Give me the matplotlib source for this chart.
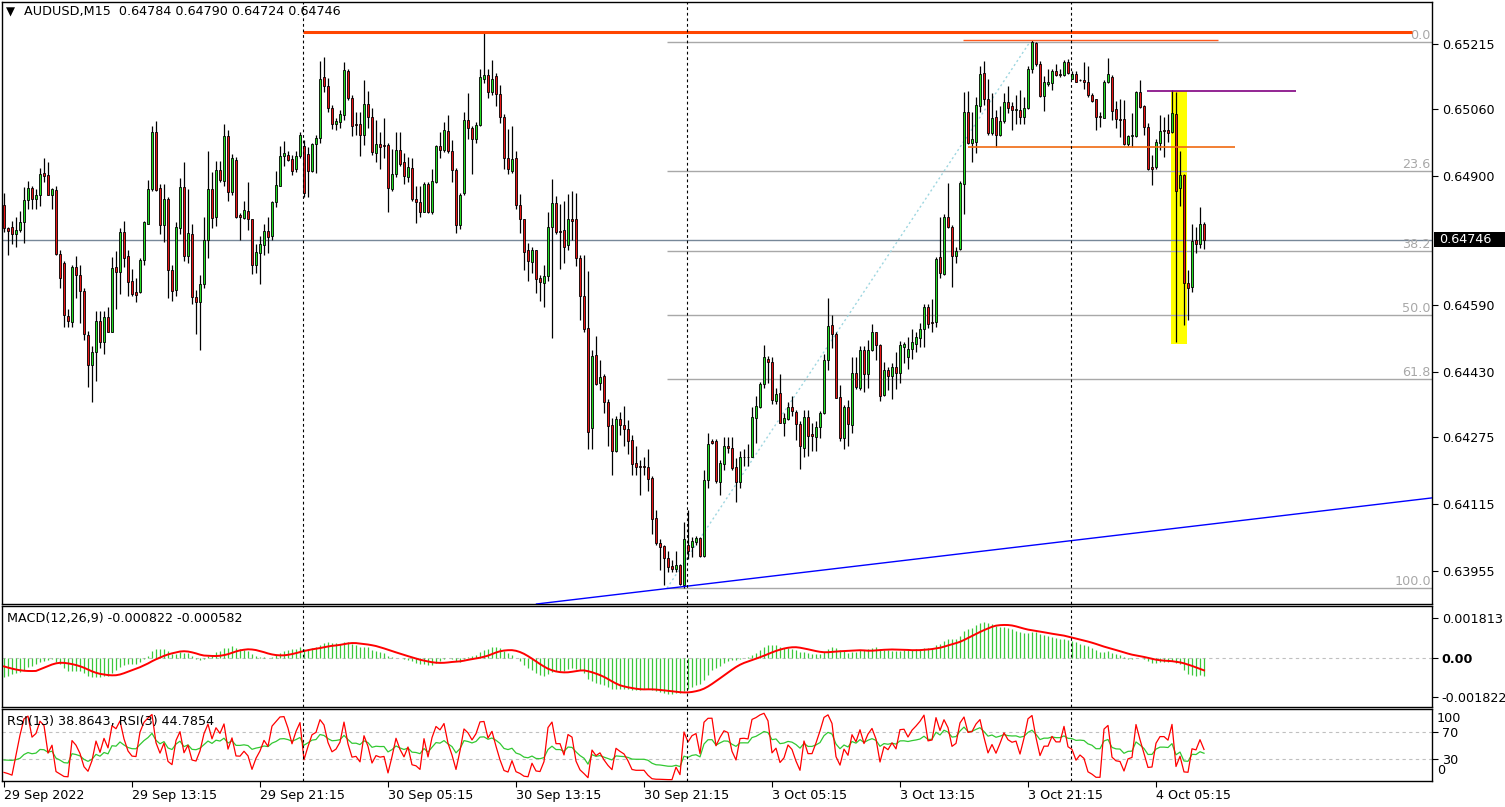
import numpy as np
import matplotlib
matplotlib.use("Agg")
import matplotlib.pyplot as plt
from matplotlib.patches import Rectangle

W, H = 1505, 807

# AUDUSD M15, bar 0 = 29 Sep 2022 05:15 ; prices in 1e-5 units
opens = [
    64830, 64774, 64776, 64760, 64770, 64790, 64842, 64871, 64844, 64853,
    64906, 64902, 64853, 64865, 64712, 64691, 64564, 64550, 64682, 64663,
    64624, 64519, 64448, 64478, 64552, 64501, 64561, 64526, 64682, 64670,
    64765, 64707, 64647, 64622, 64622, 64698, 64785, 64867, 65005, 64870,
    64782, 64844, 64673, 64626, 64774, 64873, 64707, 64760, 64610, 64597,
    64640, 64747, 64867, 64802, 64913, 64887, 64994, 64860, 64938, 64805,
    64799, 64816, 64797, 64686, 64714, 64735, 64768, 64756, 64836, 64876,
    64948, 64950, 64939, 64915, 64947, 64970, 64952, 64911, 64975, 64989,
    65135, 65114, 65061, 65024, 65029, 65045, 65151, 65086, 65024, 65024,
    64996, 65072, 65040, 64955, 64976, 64973, 64973, 64869, 64904, 64962,
    64932, 64897, 64919, 64844, 64837, 64814, 64881, 64813, 64885, 64971,
    64961, 65007, 64959, 64913, 64782, 64858, 65033, 65015, 64987, 65021,
    65132, 65141, 65101, 65137, 65095, 65041, 64941, 64910, 64941, 64830,
    64795, 64721, 64693, 64723, 64654, 64643, 64659, 64776, 64834, 64768,
    64770, 64733, 64797, 64795, 64702, 64612, 64536, 64296, 64472, 64404,
    64421, 64358, 64303, 64240, 64318, 64303, 64295, 64267, 64213, 64205,
    64205, 64203, 64176, 64081, 64020, 64013, 63986, 63965, 63960, 63969,
    63921, 64016, 64011, 64023, 64034, 63990, 64171, 64266, 64264, 64168,
    64210, 64253, 64249, 64203, 64166, 64226, 64227, 64227, 64321, 64347,
    64402, 64462, 64454, 64361, 64379, 64309, 64318, 64347, 64335, 64305,
    64249, 64323, 64281, 64275, 64298, 64332, 64458, 64543, 64520, 64370,
    64273, 64347, 64303, 64427, 64393, 64483, 64426, 64483, 64525, 64495,
    64375, 64435, 64421, 64443, 64427, 64490, 64466, 64485, 64497, 64512,
    64532, 64585, 64550, 64550, 64705, 64665, 64802, 64777, 64707, 64725,
    64881, 65052, 64978, 64980, 65066, 65146, 65082, 65001, 65040, 64996,
    65030, 65077, 65066, 65058, 65056, 65040, 65061, 65156, 65218, 65167,
    65091, 65119, 65121, 65151, 65142, 65140, 65172, 65130, 65142, 65128,
    65128, 65124, 65092, 65082, 65043, 65038, 65124, 65135, 65059, 65036,
    65035, 64976, 64994, 64994, 65101, 65066, 65017, 64920, 64920, 64978,
    65010, 65010, 65004, 65047, 64870, 64902, 64643, 64633, 64745, 64737,
    64784,
]
highs = [
    64858, 64778, 64792, 64802, 64816, 64873, 64887, 64876, 64867, 64918,
    64941, 64933, 64871, 64876, 64721, 64696, 64580, 64686, 64707, 64686,
    64631, 64529, 64492, 64575, 64575, 64575, 64585, 64705, 64719, 64774,
    64792, 64723, 64677, 64654, 64702, 64792, 64890, 65019, 65031, 64881,
    64881, 64848, 64686, 64788, 64895, 64932, 64867, 64784, 64626, 64663,
    64802, 64959, 64908, 64936, 64936, 65024, 65010, 64952, 64945, 64811,
    64839, 64885, 64797, 64737, 64756, 64784, 64802, 64839, 64910, 64970,
    64982, 64959, 64950, 64959, 65005, 64985, 64969, 64978, 64996, 65174,
    65183, 65133, 65070, 65038, 65058, 65172, 65154, 65093, 65052, 65052,
    65129, 65103, 65061, 65033, 65005, 65037, 64978, 64964, 65004, 65004,
    64955, 64944, 64941, 64874, 64876, 64885, 64885, 64916, 64972, 65005,
    65029, 65044, 64984, 64918, 64858, 65052, 65098, 65019, 65029, 65155,
    65244, 65155, 65177, 65146, 65117, 65047, 65012, 65018, 64959, 64855,
    64797, 64739, 64730, 64723, 64661, 64686, 64813, 64892, 64850, 64832,
    64839, 64856, 64862, 64859, 64710, 64711, 64671, 64483, 64517, 64458,
    64425, 64365, 64321, 64326, 64335, 64349, 64316, 64279, 64252, 64219,
    64228, 64245, 64182, 64099, 64030, 64016, 64002, 63981, 64002, 63971,
    64071, 64099, 64036, 64039, 64036, 64196, 64284, 64270, 64270, 64219,
    64275, 64275, 64275, 64224, 64242, 64247, 64258, 64347, 64372, 64406,
    64494, 64469, 64466, 64392, 64425, 64332, 64358, 64372, 64340, 64312,
    64340, 64340, 64307, 64312, 64338, 64474, 64606, 64566, 64525, 64398,
    64351, 64363, 64467, 64467, 64492, 64492, 64506, 64546, 64525, 64497,
    64453, 64443, 64451, 64478, 64504, 64501, 64513, 64534, 64527, 64548,
    64594, 64594, 64605, 64705, 64800, 64807, 64883, 64782, 64728, 64887,
    65101, 65103, 65052, 65089, 65163, 65174, 65130, 65098, 65058, 65066,
    65098, 65115, 65075, 65093, 65105, 65089, 65161, 65225, 65220, 65174,
    65137, 65154, 65154, 65167, 65154, 65177, 65179, 65151, 65151, 65130,
    65172, 65161, 65098, 65084, 65052, 65128, 65181, 65140, 65078, 65084,
    65080, 64998, 65050, 65103, 65129, 65070, 65026, 64950, 64987, 65045,
    65041, 65047, 65105, 65101, 64959, 64904, 64673, 64785, 64776, 64825,
    64790,
]
lows = [
    64765, 64710, 64737, 64728, 64765, 64739, 64820, 64820, 64820, 64827,
    64885, 64853, 64820, 64710, 64631, 64538, 64538, 64538, 64608, 64548,
    64506, 64395, 64358, 64409, 64487, 64474, 64525, 64525, 64580, 64617,
    64682, 64612, 64612, 64597, 64619, 64686, 64784, 64862, 64862, 64760,
    64742, 64608, 64599, 64612, 64760, 64696, 64691, 64594, 64520, 64483,
    64631, 64702, 64774, 64779, 64885, 64876, 64839, 64853, 64799, 64747,
    64797, 64770, 64665, 64668, 64640, 64710, 64714, 64747, 64825, 64876,
    64922, 64936, 64902, 64908, 64941, 64848, 64848, 64908, 64907, 64978,
    65100, 65052, 65012, 65010, 65015, 65033, 65081, 64994, 64996, 64947,
    64973, 65015, 64950, 64932, 64916, 64941, 64814, 64864, 64897, 64922,
    64881, 64885, 64839, 64786, 64800, 64813, 64811, 64807, 64883, 64943,
    64956, 64955, 64885, 64762, 64772, 64853, 64987, 64904, 64978, 65019,
    65121, 65086, 65093, 65066, 65026, 64916, 64904, 64906, 64820, 64762,
    64674, 64649, 64668, 64620, 64601, 64585, 64647, 64511, 64760, 64677,
    64691, 64723, 64747, 64684, 64554, 64526, 64247, 64247, 64398, 64386,
    64332, 64252, 64184, 64238, 64279, 64252, 64233, 64183, 64183, 64136,
    64183, 64145, 64043, 64016, 63956, 63920, 63951, 63951, 63951, 63921,
    63913, 63983, 63988, 64016, 63988, 63988, 64152, 64257, 64164, 64136,
    64196, 64236, 64196, 64118, 64153, 64205, 64205, 64227, 64261, 64344,
    64393, 64404, 64353, 64353, 64307, 64277, 64316, 64326, 64267, 64199,
    64227, 64229, 64242, 64240, 64272, 64330, 64434, 64487, 64367, 64265,
    64247, 64254, 64284, 64390, 64388, 64383, 64393, 64480, 64460, 64360,
    64372, 64388, 64365, 64390, 64404, 64451, 64437, 64462, 64478, 64490,
    64490, 64536, 64525, 64538, 64656, 64663, 64774, 64633, 64691, 64723,
    64808, 64976, 64933, 64955, 65052, 65070, 64998, 64998, 64969, 64994,
    65026, 65049, 65008, 65024, 65024, 65024, 65059, 65146, 65163, 65089,
    65055, 65115, 65105, 65137, 65135, 65137, 65144, 65130, 65124, 65126,
    65107, 65089, 65075, 65010, 65017, 65038, 65121, 65033, 65015, 64992,
    64973, 64970, 64969, 64992, 65061, 64996, 64913, 64878, 64916, 64961,
    64945, 64980, 65001, 64501, 64827, 64543, 64554, 64622, 64714, 64726,
    64724,
]
closes = [
    64774, 64768, 64760, 64770, 64788, 64842, 64871, 64844, 64853, 64904,
    64899, 64853, 64867, 64712, 64654, 64566, 64552, 64682, 64661, 64624,
    64520, 64448, 64478, 64552, 64501, 64561, 64526, 64680, 64670, 64765,
    64702, 64645, 64617, 64615, 64698, 64788, 64867, 65005, 64865, 64782,
    64844, 64673, 64624, 64777, 64873, 64707, 64763, 64610, 64597, 64640,
    64747, 64867, 64799, 64913, 64890, 64994, 64860, 64943, 64802, 64800,
    64818, 64797, 64686, 64717, 64737, 64768, 64754, 64836, 64878, 64948,
    64955, 64938, 64911, 64947, 64996, 64858, 64911, 64975, 64990, 65130,
    65115, 65061, 65024, 65031, 65047, 65152, 65086, 65019, 65021, 64996,
    65072, 65041, 64956, 64975, 64969, 64970, 64870, 64904, 64962, 64927,
    64899, 64920, 64844, 64837, 64814, 64881, 64814, 64887, 64971, 64962,
    65010, 64959, 64913, 64782, 64853, 65033, 65015, 64987, 65021, 65135,
    65141, 65101, 65132, 65095, 65041, 64941, 64916, 64939, 64830, 64795,
    64717, 64696, 64721, 64652, 64645, 64659, 64776, 64834, 64765, 64765,
    64728, 64797, 64791, 64702, 64611, 64534, 64287, 64469, 64402, 64418,
    64358, 64300, 64242, 64318, 64303, 64293, 64266, 64210, 64203, 64203,
    64203, 64175, 64079, 64020, 64011, 63985, 63963, 63960, 63969, 63923,
    64030, 64002, 64025, 64032, 63990, 64171, 64259, 64261, 64170, 64213,
    64253, 64249, 64201, 64166, 64226, 64227, 64226, 64323, 64349, 64402,
    64466, 64453, 64363, 64377, 64309, 64319, 64347, 64337, 64305, 64252,
    64323, 64277, 64277, 64298, 64332, 64458, 64541, 64520, 64369, 64272,
    64347, 64305, 64427, 64395, 64483, 64426, 64483, 64525, 64495, 64372,
    64435, 64421, 64443, 64427, 64495, 64497, 64486, 64503, 64515, 64532,
    64585, 64546, 64548, 64700, 64666, 64802, 64777, 64707, 64719, 64882,
    65052, 64978, 64987, 65068, 65144, 65082, 65001, 65038, 64998, 65031,
    65077, 65061, 65056, 65058, 65040, 65061, 65156, 65220, 65167, 65091,
    65123, 65123, 65149, 65140, 65140, 65172, 65146, 65142, 65124, 65128,
    65124, 65092, 65078, 65041, 65041, 65123, 65142, 65055, 65036, 65033,
    64975, 64994, 64996, 65101, 65064, 65017, 64915, 64916, 64980, 65006,
    65006, 65001, 65049, 64864, 64901, 64643, 64631, 64744, 64737, 64785,
    64746,
]

time_labels = ['29 Sep 2022', '29 Sep 13:15', '29 Sep 21:15', '30 Sep 05:15',
               '30 Sep 13:15', '30 Sep 21:15', '3 Oct 05:15', '3 Oct 13:15',
               '3 Oct 21:15', '4 Oct 05:15']
label_bars = [0, 32, 64, 96, 128, 160, 192, 224, 256, 288]
day_starts = [75, 171, 267]
price_ticks = [0.65215, 0.65060, 0.64900, 0.64590, 0.64430, 0.64275, 0.64115, 0.63955]

fib_levels = [0.0, 23.6, 38.2, 50.0, 61.8, 100.0]
fib_low, fib_high = 0.63913, 0.65220
resistance = 0.65244
top_line = 0.65225
purple_line = 0.65103
mid_line = 0.64969
box_top, box_bottom = 0.65102, 0.64498
trend_p1, trend_p2 = (170, 0.63917), (357, 0.64129)

# indicator readouts shown in the panel headers
macd_readout = (-0.000822, -0.000582)
rsi_readout = (38.8643, 44.7854)
macd_start, signal_start = -0.00095, -0.00034
rsi13_start, rsi3_start = 29.0, 11.0

o = np.array(opens) / 1e5
h = np.array(highs) / 1e5
l = np.array(lows) / 1e5
c = np.array(closes) / 1e5
x = np.arange(len(c))


def ema(v, n, seed):
    a = 2.0 / (n + 1)
    e, out = seed, []
    for val in v:
        e = a * val + (1 - a) * e
        out.append(e)
    return np.array(out)


def rsi(v, n, start):
    d = np.diff(v)
    m = np.mean(np.abs(d[:n]))
    g, ls = 2 * m * start / 100, 2 * m * (1 - start / 100)
    out = [start]
    for dv in d:
        g = (g * (n - 1) + max(dv, 0)) / n
        ls = (ls * (n - 1) + max(-dv, 0)) / n
        out.append(100 * g / (g + ls) if g + ls > 0 else 50)
    return np.array(out)


macd = ema(c, 12, c[0]) - ema(c, 26, c[0] - macd_start)
padded = np.concatenate([np.full(8, signal_start), macd])
signal = np.convolve(padded, np.ones(9) / 9, mode='valid')
rsi13 = rsi(c, 13, rsi13_start)
rsi3 = rsi(c, 3, rsi3_start)

fig = plt.figure(figsize=(W / 100, H / 100), dpi=100)
fig.patch.set_facecolor('white')


def box(top, bottom):
    return [2 / W, 1 - bottom / H, 1430 / W, (bottom - top) / H]


ax = fig.add_axes(box(2, 604))
am = fig.add_axes(box(606, 707))
ar = fig.add_axes(box(709, 781))

FS = 9.2
xmax = 357
for a in (ax, am, ar):
    a.set_xlim(-0.5, xmax)
    for s in a.spines.values():
        s.set_linewidth(1.0)
        s.set_color('black')
    for d in day_starts:
        a.axvline(d - 0.25, color='black', lw=0.8, ls=(0, (2.5, 2.5)), zorder=6)
    a.yaxis.tick_right()
    a.tick_params(axis='y', length=4, width=0.8, labelsize=FS, pad=3, direction='out')

# ---- main price panel ----
ax.set_ylim(0.638752, 0.653152)
ax.set_xticks([])
ax.set_yticks(price_ticks)
ax.set_yticklabels([f'{p:.5f}' for p in price_ticks])

ax.add_patch(Rectangle((291.75, box_bottom), 4.0, box_top - box_bottom,
                       facecolor='#FFFF00', edgecolor='none', zorder=0.5))

top_w = np.maximum.reduce([h, o, c])
bot_w = np.minimum.reduce([l, o, c])
ax.vlines(x, bot_w, top_w, color='black', lw=0.9, zorder=2)
up = c >= o
bh = np.maximum(np.abs(c - o), 0.000008)
ax.bar(x[up], bh[up], bottom=o[up], width=0.66, color='#22DD22',
       edgecolor='black', linewidth=0.6, zorder=3)
ax.bar(x[~up], bh[~up], bottom=c[~up], width=0.66, color='#E81515',
       edgecolor='black', linewidth=0.6, zorder=3)

# fibonacci retracement
fib_left = 165.75
for lv in fib_levels:
    p = fib_high - lv / 100 * (fib_high - fib_low)
    ax.hlines(p, fib_left, xmax, color='#A8A8A8', lw=1, zorder=1)
    ax.text(xmax - 0.3, p, f'{lv:.1f}', color='#A8A8A8', fontsize=FS,
            ha='right', va='bottom', zorder=4)
ax.plot([fib_left, 256.5], [fib_low, fib_high], color='#9ED6E0',
        lw=1, ls=(0, (1.5, 2)), zorder=1)

ax.axhline(c[-1], color='#778899', lw=1, zorder=1)
ax.hlines(resistance, 74.75, 352, color='#FF4500', lw=2.2, zorder=4)
ax.hlines(top_line, 239.75, 303.5, color='#FF5A1E', lw=1, zorder=4)
ax.hlines(purple_line, 285.75, 323, color='#800080', lw=1.2, zorder=4)
ax.hlines(mid_line, 241, 307.75, color='#F06A10', lw=1.2, zorder=4)
ax.axline(trend_p1, trend_p2, color='#0000FF', lw=1, zorder=4)

# current price box on the price scale
fig.add_artist(Rectangle((1434 / W, 1 - 247 / H), 71 / W, 15 / H,
                         transform=fig.transFigure, facecolor='black', edgecolor='none'))
fig.text(1439 / W, 1 - 239.5 / H, f'{c[-1]:.5f}', color='white', fontsize=FS,
         va='center', ha='left')

fig.text(6 / W, 1 - 12 / H, '\u25BC', fontsize=8.5, va='center', ha='left')
fig.text(24 / W, 1 - 12 / H,
         f'AUDUSD,M15  {o[-1]:.5f} {h[-1]:.5f} {l[-1]:.5f} {c[-1]:.5f}',
         fontsize=FS, va='center', ha='left')

# ---- MACD panel ----
am.set_ylim(-0.002263, 0.002373)
am.set_xticks([])
am.axhline(0, color='#C0C0C0', lw=0.8, ls=(0, (3, 3)), zorder=1)
am.vlines(x, 0, macd, color='#3CC83C', lw=0.9, zorder=2)
am.plot(x, signal, color='#FF0000', lw=1.4, zorder=3)
am.set_yticks([0.001813, 0.0, -0.001822])
am.set_yticklabels(['0.001813', '0.00', '-0.001822'])
am.get_yticklabels()[1].set_fontweight('bold')
am.text(0.0035, 0.88, f'MACD(12,26,9) {macd_readout[0]:.6f} {macd_readout[1]:.6f}',
        transform=am.transAxes, fontsize=FS, va='center', ha='left')

# ---- RSI panel ----
ar.set_ylim(-1.45, 102.9)
ar.axhline(70, color='#C0C0C0', lw=0.8, ls=(0, (3, 3)), zorder=1)
ar.axhline(30, color='#C0C0C0', lw=0.8, ls=(0, (3, 3)), zorder=1)
ar.plot(x, rsi13, color='#32C832', lw=0.9, zorder=2)
ar.plot(x, rsi3, color='#FF0000', lw=0.9, zorder=3)
ar.set_yticks([70, 30])
ar.set_yticklabels(['70', '30'])
fig.text(1437 / W, 1 - 719 / H, '100', fontsize=FS, va='center', ha='left')
fig.text(1437 / W, 1 - 771 / H, '0', fontsize=FS, va='center', ha='left')
ar.text(0.0035, 0.82, f'RSI(13) {rsi_readout[0]:.4f}, RSI(3) {rsi_readout[1]:.4f}',
        transform=ar.transAxes, fontsize=FS, va='center', ha='left')
ar.set_xticks(label_bars)
ar.set_xticklabels(time_labels, ha='left', fontsize=FS)
ar.tick_params(axis='x', length=4, width=0.8, pad=2)

fig.savefig('out.png', dpi=100, facecolor='white')
